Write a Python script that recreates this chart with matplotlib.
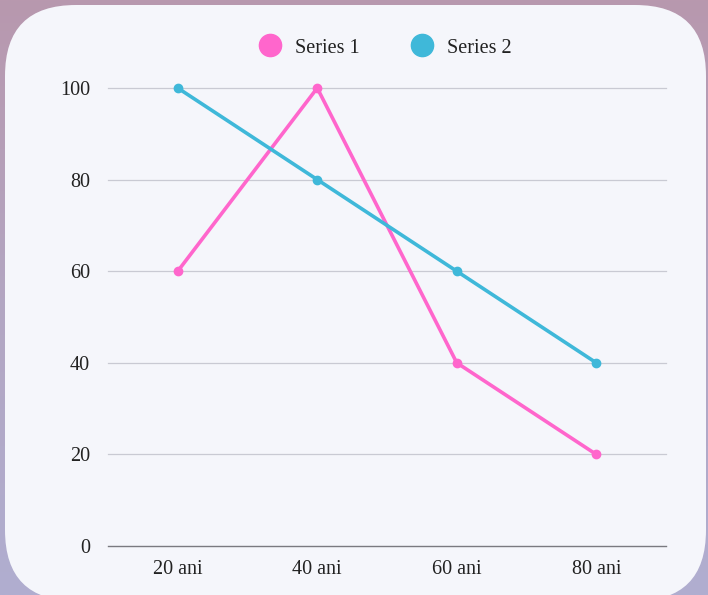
import numpy as np
import matplotlib.pyplot as plt
from matplotlib.patches import FancyBboxPatch
from matplotlib.lines import Line2D
from matplotlib.colors import LinearSegmentedColormap

categories = ['20 ani', '40 ani', '60 ani', '80 ani']
series1 = [60, 100, 40, 20]
series2 = [100, 80, 60, 40]
yticks = [0, 20, 40, 60, 80, 100]

plt.rcParams['font.family'] = ['Liberation Serif', 'DejaVu Serif']

fig = plt.figure(figsize=(7.08, 5.95), dpi=100)
W, H = 708, 595

# fondo degradado
bg = fig.add_axes([0, 0, 1, 1], zorder=-2)
grad = np.linspace(0, 1, 256).reshape(-1, 1)
cmap = LinearSegmentedColormap.from_list('bg', ['#b898ae', '#b3a6c2', '#b0aed0'])
bg.imshow(grad, aspect='auto', cmap=cmap, extent=[0, 1, 0, 1])
bg.set_xlim(0, 1)
bg.set_ylim(0, 1)
bg.axis('off')

# tarjeta
card = FancyBboxPatch((5 / W, -0.01), 701 / W, 590 / H + 0.01,
                      boxstyle='round,pad=0,rounding_size=0.1',
                      transform=bg.transAxes, facecolor='#f5f6fb',
                      edgecolor='none', mutation_aspect=W / H)
bg.add_patch(card)

ax = fig.add_axes([108 / W, 1 - 546 / H, 558 / W, 458 / H])
ax.set_facecolor('none')
x = np.arange(len(categories))
ax.plot(x, series1, color='#ff66cc', lw=2.6, marker='o', ms=6, zorder=3,
        clip_on=False)
ax.plot(x, series2, color='#3fb8d9', lw=2.6, marker='o', ms=6, zorder=3,
        clip_on=False)

ax.set_xlim(-0.5, len(categories) - 0.5)
ax.set_ylim(0, 100)
ax.set_yticks(yticks)
ax.set_xticks(x)
ax.set_xticklabels(categories)
for yv in yticks[1:]:
    ax.axhline(yv, color='#c9cad3', lw=0.9, zorder=1, clip_on=False)
ax.axhline(0, color='#7a7a80', lw=1.0, zorder=1, clip_on=False)
for s in ax.spines.values():
    s.set_visible(False)
ax.tick_params(length=0, labelsize=14.5, colors='#222222')
ax.tick_params(axis='y', pad=13)
ax.tick_params(axis='x', pad=10)

handles = [Line2D([], [], color='#ff66cc', marker='o', ls='', ms=16),
           Line2D([], [], color='#3fb8d9', marker='o', ls='', ms=16)]
fig.legend(handles, ['Series 1', 'Series 2'], loc='center',
           bbox_to_anchor=(381 / W, 1 - 48 / H), ncol=2, frameon=False,
           fontsize=14.5, handletextpad=0.25, columnspacing=2.1,
           labelcolor='#222222')

fig.savefig('out.png', dpi=100)
